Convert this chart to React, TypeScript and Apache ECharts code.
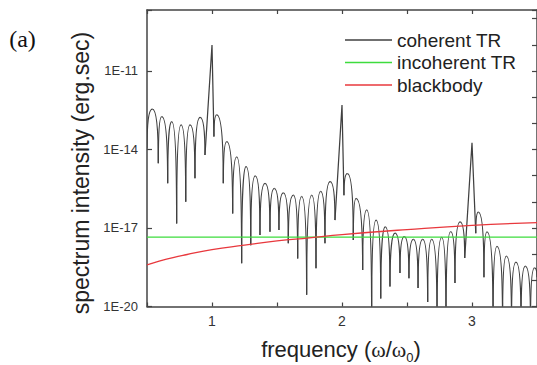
import React, { useEffect, useRef } from 'react';
import * as echarts from 'echarts';

// frequency in units of omega/omega0, intensity in erg.sec
// coherent TR: alternating fringe minima (even index) and maxima (odd index)
const coherentFreq = [
  0.5, 0.541, 0.587, 0.613, 0.659, 0.69, 0.728, 0.762, 0.798, 0.831, 0.869, 0.908, 0.946,
  1.0, 1.015, 1.036, 1.087, 1.113, 1.159, 1.19, 1.228, 1.262, 1.298, 1.333, 1.369, 1.408, 1.446, 1.479,
  1.515, 1.549, 1.587, 1.626, 1.659, 1.69, 1.728, 1.767, 1.8, 1.836, 1.869, 1.908, 1.946,
  2.0, 2.015, 2.041, 2.087, 2.108, 2.159, 2.19, 2.228, 2.262, 2.298, 2.333, 2.369, 2.408, 2.446, 2.479,
  2.515, 2.549, 2.585, 2.621, 2.659, 2.69, 2.731, 2.767, 2.8, 2.836, 2.869, 2.908, 2.944,
  3.0, 3.029, 3.049, 3.092, 3.115, 3.162, 3.192, 3.235, 3.264, 3.304, 3.338, 3.377, 3.41, 3.45, 3.481, 3.5,
];
const coherentIntensity = [
  1.1e-14, 3.5e-13, 3.0e-15, 1.8e-13, 5.1e-16, 1.15e-13, 1.5e-17, 8.7e-14, 1.0e-16, 8.7e-14, 7.9e-16, 1.7e-13, 6.2e-15,
  9.8e-11, 3.1e-14, 2.1e-13, 5.1e-16, 2.0e-14, 3.6e-17, 5.2e-15, 4.5e-19, 2.2e-15, 2.2e-18, 9.8e-16, 5.4e-18, 5.1e-16, 7.2e-18, 3.3e-16,
  8.3e-18, 2.2e-16, 2.6e-18, 1.8e-16, 6.9e-19, 1.6e-16, 2.8e-20, 1.8e-16, 2.9e-19, 2.5e-16, 2.6e-18, 5.9e-16, 2.0e-17,
  5.0e-13, 1.8e-16, 1.2e-15, 3.5e-18, 1.35e-16, 2.5e-19, 4.9e-17, 5e-21, 2.0e-17, 2.0e-20, 1.1e-17, 5.8e-20, 6.3e-18, 1.9e-19, 4.7e-18,
  1.2e-19, 3.7e-18, 5.1e-20, 3.7e-18, 1.5e-20, 3.7e-18, 2.5e-21, 4.4e-18, 2.5e-21, 7.2e-18, 7.9e-20, 1.7e-17, 7.1e-19,
  1.8e-14, 6.3e-18, 4.0e-17, 1.3e-19, 7.1e-18, 2.5e-21, 2.0e-18, 2.5e-21, 8.5e-19, 2.5e-21, 5.0e-19, 2.5e-21, 3.5e-19, 2.5e-21, 3.0e-19, 1.3e-19,
];
// harmonic peaks drawn as sharp spikes
const harmonicFreq = [1, 2, 3];

const incoherentFreq = [0.5, 3.5];
const incoherentIntensity = [4.5e-18, 4.5e-18];
const blackbodyFreq = [0.5, 0.6, 0.7, 0.8, 1.0, 1.25, 1.5, 1.75, 2.0, 2.5, 3.0, 3.5];
const blackbodyIntensity = [3.9e-19, 5.5e-19, 7.4e-19, 9.5e-19, 1.5e-18, 2.2e-18, 3.2e-18, 4.2e-18, 5.6e-18, 8.7e-18, 1.26e-17, 1.6e-17];

const seriesNames = ['coherent TR', 'incoherent TR', 'blackbody'];
const xTickValues = [1, 2, 3];
const xTickLabels = ['1', '2', '3'];
const yTickExponents = [-20, -17, -14, -11];
const yTickLabels = ['1E-20', '1E-17', '1E-14', '1E-11'];

const COHERENT_COLOR = '#404040';
const INCOHERENT_COLOR = '#3ddc3d';
const BLACKBODY_COLOR = '#e8383d';

const toLogPairs = (xs: number[], vs: number[]) => xs.map((x, i) => [x, Math.log10(vs[i])]);

// one item per fringe maximum: [xMinLeft, logMinLeft, xMax, logMax, xMinRight, logMinRight, isHarmonic]
const buildLobes = () => {
  const items: number[][] = [];
  for (let i = 1; i < coherentFreq.length - 1; i += 2) {
    const isHarm = harmonicFreq.some((h) => Math.abs(h - coherentFreq[i]) < 1e-6) ? 1 : 0;
    items.push([
      coherentFreq[i - 1], Math.log10(coherentIntensity[i - 1]),
      coherentFreq[i], Math.log10(coherentIntensity[i]),
      coherentFreq[i + 1], Math.log10(coherentIntensity[i + 1]),
      isHarm,
    ]);
  }
  return items;
};

export default function App() {
  const ref = useRef<HTMLDivElement>(null);
  useEffect(() => {
    if (!ref.current) return;
    const chart = echarts.init(ref.current, undefined, { renderer: 'svg' });
    const axisColor = '#444';
    const baseX = {
      type: 'value',
      min: 0.5,
      max: 3.5,
      interval: 0.5,
      splitLine: { show: false },
      axisLine: { onZero: false, lineStyle: { color: axisColor, width: 1.5 } },
      axisTick: { inside: true, length: 4, lineStyle: { color: axisColor, width: 1.2 } },
    };
    const baseY = {
      type: 'value',
      min: -20,
      max: -8.67,
      splitLine: { show: false },
      axisLine: { onZero: false, lineStyle: { color: axisColor, width: 1.5 } },
      axisTick: { inside: true, length: 5, lineStyle: { color: axisColor, width: 1.2 } },
    };
    const lineW = 1.25;
    chart.setOption({
      animation: false,
      backgroundColor: '#ffffff',
      grid: { left: 147, right: 0, top: 10, bottom: 58.5, outerBoundsMode: 'none' },
      xAxis: [
        {
          ...baseX,
          position: 'bottom',
          axisLabel: {
            margin: 7,
            fontSize: 14,
            color: '#333',
            fontFamily: 'Liberation Sans',
            formatter: (v: number) => {
              const i = xTickValues.findIndex((t) => Math.abs(t - v) < 1e-6);
              return i >= 0 ? xTickLabels[i] : '';
            },
          },
        },
        { ...baseX, position: 'top', axisLabel: { show: false } },
      ],
      yAxis: [
        {
          ...baseY,
          interval: 3,
          position: 'left',
          axisLabel: {
            margin: 9,
            fontSize: 13,
            color: '#333',
            fontFamily: 'Liberation Sans',
            formatter: (v: number) => {
              const i = yTickExponents.findIndex((t) => Math.abs(t - v) < 1e-6);
              return i >= 0 ? yTickLabels[i] : '';
            },
          },
        },
        { ...baseY, interval: 1, position: 'right', axisLabel: { show: false } },
      ],
      legend: {
        data: seriesNames,
        orient: 'vertical',
        left: 345,
        top: 30.5,
        padding: 0,
        icon: 'rect',
        itemWidth: 47,
        itemHeight: 1.4,
        itemGap: 3.5,
        textStyle: { fontSize: 19, color: '#222', fontFamily: 'Liberation Sans' },
      },
      series: [
        {
          name: seriesNames[0],
          type: 'custom',
          clip: true,
          silent: true,
          itemStyle: { color: COHERENT_COLOR },
          encode: { x: [0, 2, 4], y: [1, 3, 5] },
          data: buildLobes(),
          renderItem: (_params: any, api: any) => {
            const a = api.coord([api.value(0), api.value(1)]);
            const p = api.coord([api.value(2), api.value(3)]);
            const b = api.coord([api.value(4), api.value(5)]);
            const style = { stroke: COHERENT_COLOR, lineWidth: lineW, fill: 'none' };
            if (api.value(6) === 1) {
              return { type: 'polyline', shape: { points: [a, p, b] }, style };
            }
            const k = 0.7;
            const w = 0.6;
            return {
              type: 'group',
              children: [
                {
                  type: 'bezierCurve',
                  shape: {
                    x1: a[0], y1: a[1],
                    cpx1: a[0], cpy1: a[1] + k * (p[1] - a[1]),
                    cpx2: p[0] - w * (p[0] - a[0]), cpy2: p[1],
                    x2: p[0], y2: p[1],
                  },
                  style,
                },
                {
                  type: 'bezierCurve',
                  shape: {
                    x1: p[0], y1: p[1],
                    cpx1: p[0] + w * (b[0] - p[0]), cpy1: p[1],
                    cpx2: b[0], cpy2: b[1] + k * (p[1] - b[1]),
                    x2: b[0], y2: b[1],
                  },
                  style,
                },
              ],
            };
          },
        },
        {
          name: seriesNames[1],
          type: 'line',
          data: toLogPairs(incoherentFreq, incoherentIntensity),
          symbol: 'none',
          lineStyle: { color: INCOHERENT_COLOR, width: 1.3 },
          itemStyle: { color: INCOHERENT_COLOR },
        },
        {
          name: seriesNames[2],
          type: 'line',
          data: toLogPairs(blackbodyFreq, blackbodyIntensity),
          symbol: 'none',
          smooth: true,
          lineStyle: { color: BLACKBODY_COLOR, width: 1.3 },
          itemStyle: { color: BLACKBODY_COLOR },
        },
      ],
      graphic: [
        {
          type: 'text',
          x: 22.5,
          y: 39,
          style: {
            text: '(a)',
            fontSize: 24,
            fontFamily: 'Liberation Serif',
            fill: '#111',
            align: 'center',
            verticalAlign: 'middle',
          },
        },
        {
          type: 'text',
          x: 81,
          y: 173,
          rotation: Math.PI / 2,
          style: {
            text: 'spectrum intensity (erg.sec)',
            fontSize: 23,
            fontFamily: 'Liberation Sans',
            fill: '#222',
            align: 'center',
            verticalAlign: 'middle',
          },
        },
        {
          type: 'text',
          x: 341,
          y: 349,
          style: {
            text: '{a|frequency (}{w|ω}{a|/}{w|ω}{s|0}{a|)}',
            align: 'center',
            verticalAlign: 'middle',
            fill: '#222',
            rich: {
              a: { fontSize: 22, fontFamily: 'Liberation Sans', fill: '#222' },
              w: { fontSize: 22, fontFamily: 'Liberation Serif', fill: '#222' },
              s: { fontSize: 13, fontFamily: 'Liberation Sans', fill: '#222', padding: [16, 0, 0, 0] },
            },
          },
        },
      ],
    });
    return () => chart.dispose();
  }, []);
  return (
    <div
      ref={ref}
      style={{ position: 'fixed', left: 0, top: 0, width: 537, height: 365, background: '#fff' }}
    />
  );
}
